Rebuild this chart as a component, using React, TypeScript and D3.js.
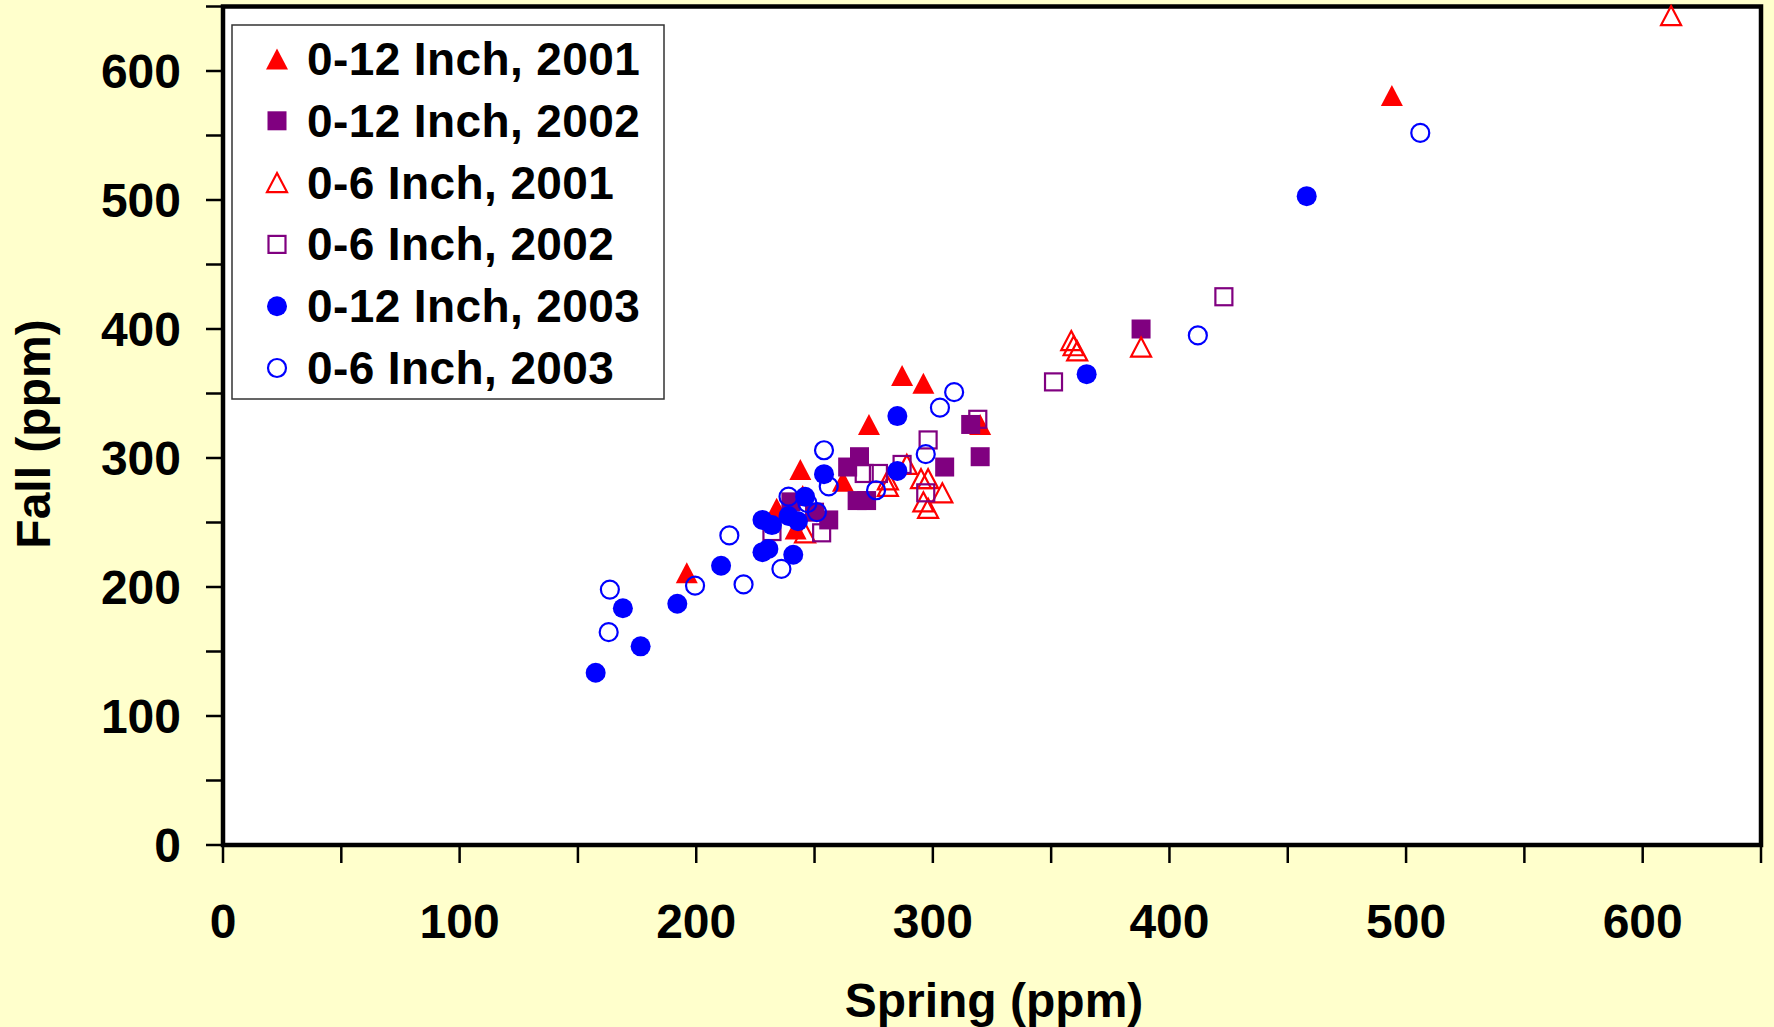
import React, { useEffect, useRef } from "react";
import * as d3 from "d3";

// [spring, fall] in ppm
const inch12_2001 = [
  [494, 581], [287, 364], [296, 358], [273, 326], [320, 326], [244, 291],
  [262, 282], [234, 261], [245, 271], [242, 245], [196, 211],
];
const inch12_2002 = [
  [388, 400], [316, 326], [320, 301], [305, 293], [269, 301], [264, 293],
  [268, 267], [272, 267], [240, 266], [250, 258], [256, 252],
];
const inch6_2001 = [
  [612, 643], [358.5, 391], [359.5, 387], [361, 383], [388, 386], [289, 295],
  [281, 283], [281, 278], [295, 284], [298, 284], [304, 273], [296, 266],
  [298, 261], [246, 242],
];
const inch6_2002 = [
  [423, 425], [351, 359], [298, 314], [319, 330], [287, 295], [271, 288],
  [277, 288], [297, 273], [232, 243], [253, 242],
];
const inch12_2003 = [
  [458, 503], [365, 365], [285, 332.5], [285, 290], [254, 287.5], [246, 270],
  [228, 252], [232, 248], [239, 255], [243, 251], [228, 227], [230.5, 229.5],
  [241, 225], [210.5, 216.5], [192, 187], [169, 183.5], [176.5, 154], [157.5, 133.5],
];
const inch6_2003 = [
  [506, 552], [412, 395], [309, 351], [303, 339], [254, 306], [297, 303],
  [276, 275], [256, 278], [239, 270], [247, 265], [251, 258], [214, 240],
  [199.5, 201], [220, 202], [236, 214], [163.5, 198], [163, 165],
];

const seriesLabels = [
  "0-12 Inch, 2001",
  "0-12 Inch, 2002",
  "0-6 Inch, 2001",
  "0-6 Inch, 2002",
  "0-12 Inch, 2003",
  "0-6 Inch, 2003",
];
const seriesData = [inch12_2001, inch12_2002, inch6_2001, inch6_2002, inch12_2003, inch6_2003];
const axisTicks = d3.range(0, 651, 50);

const styles = [
  { shape: "triangle", color: "#FF0000", filled: true },
  { shape: "square", color: "#800080", filled: true },
  { shape: "triangle", color: "#FF0000", filled: false },
  { shape: "square", color: "#800080", filled: false },
  { shape: "circle", color: "#0000FF", filled: true },
  { shape: "circle", color: "#0000FF", filled: false },
];

const FONT = "'Liberation Sans', Arial, sans-serif";

// draws one marker centered at 0,0 into a g
function addMarker(g, st) {
  const sw = 2.2;
  if (st.shape === "triangle") {
    const w = st.filled ? 22 : 20;
    const h = st.filled ? 21 : 19;
    g.append("path")
      .attr("d", `M0,${-h / 2}L${w / 2},${h / 2}L${-w / 2},${h / 2}Z`)
      .attr("fill", st.filled ? st.color : "none")
      .attr("stroke", st.filled ? "none" : st.color)
      .attr("stroke-width", sw)
      .attr("stroke-linejoin", "miter");
  } else if (st.shape === "square") {
    const s = st.filled ? 19 : 17;
    g.append("rect")
      .attr("x", -s / 2)
      .attr("y", -s / 2)
      .attr("width", s)
      .attr("height", s)
      .attr("fill", st.filled ? st.color : "none")
      .attr("stroke", st.filled ? "none" : st.color)
      .attr("stroke-width", sw);
  } else {
    g.append("circle")
      .attr("r", st.filled ? 10 : 9)
      .attr("fill", st.filled ? st.color : "none")
      .attr("stroke", st.filled ? "none" : st.color)
      .attr("stroke-width", sw);
  }
}

export default function App() {
  const svgRef = useRef(null);

  useEffect(() => {
    const width = 1774;
    const height = 1027;

    const svg = d3.select(svgRef.current);
    svg.selectAll("*").remove();
    svg.attr("width", width).attr("height", height);

    const x = d3.scaleLinear().domain([0, 650]).range([223, 1761]);
    const y = d3.scaleLinear().domain([0, 650]).range([845, 6.5]);

    svg.append("rect").attr("width", width).attr("height", height).attr("fill", "#FFFFCC");

    // plot area
    svg
      .append("rect")
      .attr("x", x(0))
      .attr("y", y(650))
      .attr("width", x(650) - x(0))
      .attr("height", y(0) - y(650))
      .attr("fill", "white")
      .attr("stroke", "black")
      .attr("stroke-width", 4.5);

    // x ticks
    svg
      .selectAll("line.xt")
      .data(axisTicks)
      .join("line")
      .attr("class", "xt")
      .attr("x1", (d) => x(d))
      .attr("x2", (d) => x(d))
      .attr("y1", y(0))
      .attr("y2", y(0) + 18)
      .attr("stroke", "black")
      .attr("stroke-width", 2.5);

    svg
      .selectAll("text.xl")
      .data(axisTicks.filter((d) => d % 100 === 0))
      .join("text")
      .attr("class", "xl")
      .attr("x", (d) => x(d))
      .attr("y", 938)
      .attr("text-anchor", "middle")
      .style("font", `bold 48px ${FONT}`)
      .text((d) => d);

    // y ticks
    svg
      .selectAll("line.yt")
      .data(axisTicks)
      .join("line")
      .attr("class", "yt")
      .attr("x1", x(0) - 17)
      .attr("x2", x(0))
      .attr("y1", (d) => y(d))
      .attr("y2", (d) => y(d))
      .attr("stroke", "black")
      .attr("stroke-width", 2.5);

    svg
      .selectAll("text.yl")
      .data(axisTicks.filter((d) => d % 100 === 0))
      .join("text")
      .attr("class", "yl")
      .attr("x", 181)
      .attr("y", (d) => y(d))
      .attr("dy", "0.36em")
      .attr("text-anchor", "end")
      .style("font", `bold 48px ${FONT}`)
      .text((d) => d);

    // axis titles
    svg
      .append("text")
      .attr("x", 994)
      .attr("y", 1017)
      .attr("text-anchor", "middle")
      .style("font", `bold 48px ${FONT}`)
      .text("Spring (ppm)");

    svg
      .append("text")
      .attr("transform", "translate(50,434) rotate(-90)")
      .attr("text-anchor", "middle")
      .style("font", `bold 48px ${FONT}`)
      .text("Fall (ppm)");

    // legend
    const legend = svg.append("g");
    legend
      .append("rect")
      .attr("x", 232)
      .attr("y", 25)
      .attr("width", 432)
      .attr("height", 374)
      .attr("fill", "white")
      .attr("stroke", "#333")
      .attr("stroke-width", 1.5);

    seriesLabels.forEach((label, i) => {
      const cy = 59 + i * 61.8;
      const mg = legend.append("g").attr("transform", `translate(277,${cy})`);
      addMarker(mg, styles[i]);
      legend
        .append("text")
        .attr("x", 307)
        .attr("y", cy + 16)
        .style("font", `bold 46px ${FONT}`)
        .style("letter-spacing", "0.4px")
        .text(label);
    });

    // points, in series order so later series sit on top
    seriesData.forEach((pts, i) => {
      svg
        .append("g")
        .selectAll("g")
        .data(pts)
        .join("g")
        .attr("transform", (d) => `translate(${x(d[0])},${y(d[1])})`)
        .each(function () {
          addMarker(d3.select(this), styles[i]);
        });
    });
  }, []);

  return (
    <div style={{ position: "absolute", left: 0, top: 0 }}>
      <svg ref={svgRef} style={{ display: "block" }} />
    </div>
  );
}
